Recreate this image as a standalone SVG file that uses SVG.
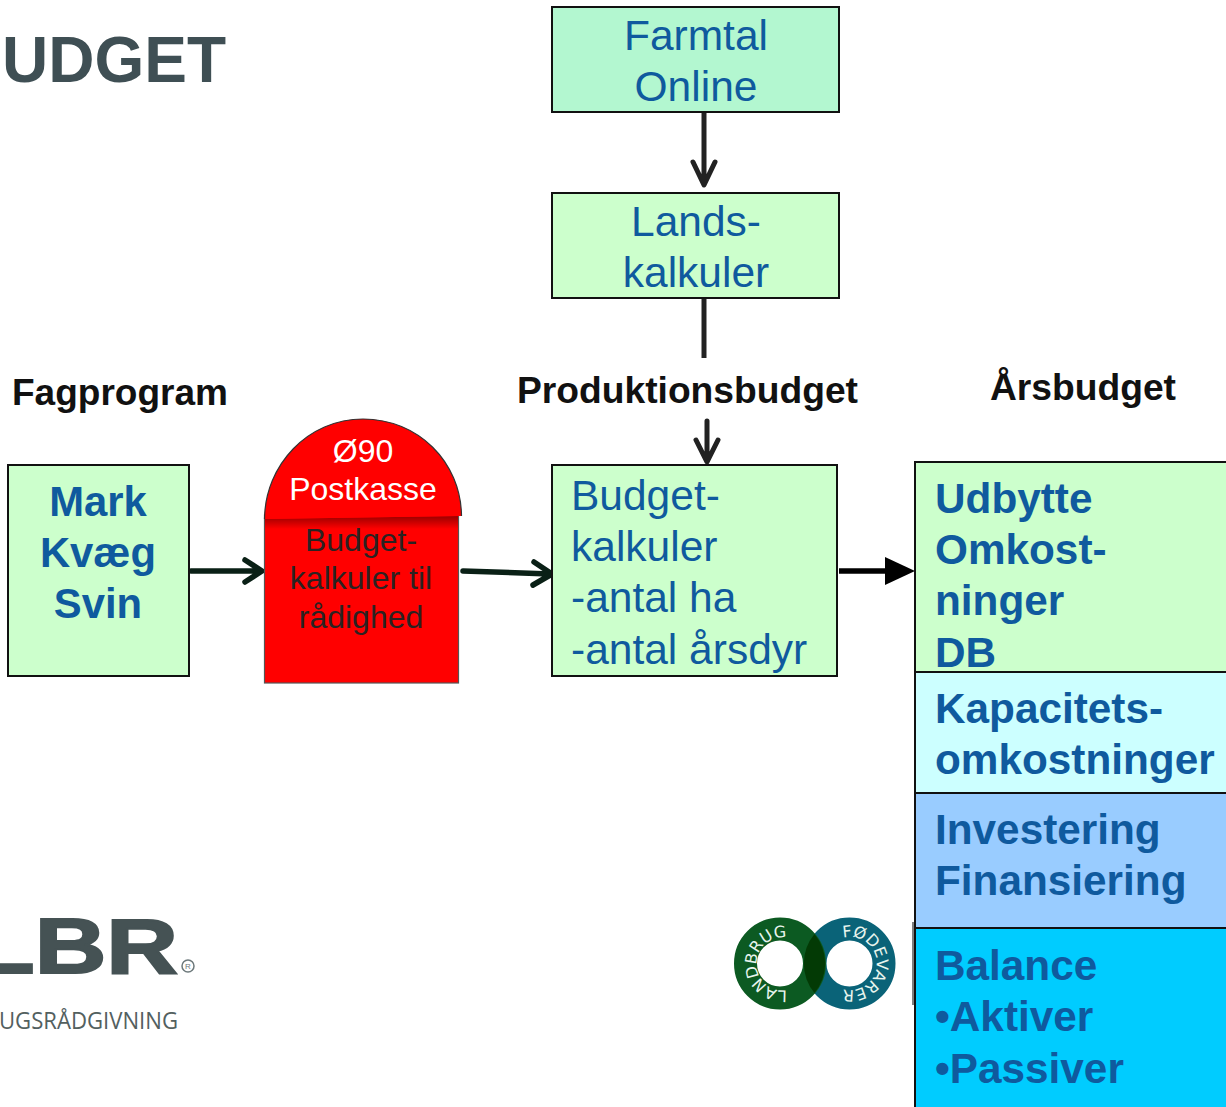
<svg xmlns="http://www.w3.org/2000/svg" width="1226" height="1107" viewBox="0 0 1226 1107">
<defs>
<linearGradient id="sh" x1="0" y1="0" x2="0" y2="1"><stop offset="0" stop-color="#9a0000"/><stop offset="1" stop-color="#ff0000"/></linearGradient>
<path id="arcL" d="M787 990A26.500 26.500 0 1 1 789 938"/>
<path id="arcR" d="M843 938A26.500 26.500 0 1 1 843 989"/>
</defs>
<style>
text{font-family:"Liberation Sans",Arial,sans-serif}
.box{stroke:#111;stroke-width:2}
.n{font-size:42.500px;fill:#0f5a9e;text-anchor:middle}
.l{font-size:42.500px;fill:#0f5a9e}
.b{font-size:42.300px;fill:#0f5a9e;font-weight:bold}
.h{font-weight:bold;fill:#111;font-size:37px}
.c{fill:none;stroke:#0a2016;stroke-width:5.500;stroke-linecap:round;stroke-linejoin:round}
.d{fill:none;stroke:#222;stroke-width:5;stroke-linecap:round;stroke-linejoin:round}
.lg{font-size:16px;fill:#e8f5ee;font-family:"DejaVu Sans",sans-serif}
</style>
<text x="2" y="82" font-size="64" font-weight="bold" fill="#3f4f54">UDGET</text>
<text class="h" x="12" y="405">Fagprogram</text>
<text class="h" x="517" y="403" textLength="341" lengthAdjust="spacingAndGlyphs">Produktionsbudget</text>
<text class="h" x="990" y="400" textLength="186" lengthAdjust="spacingAndGlyphs">Årsbudget</text>

<g id="connectors">
<path class="d" d="M704 113V184M693 162L704 185L715 162"/>
<path d="M704 299V358" stroke="#222" stroke-width="5" fill="none"/>
<path class="d" d="M707 421V461M696 440L707 462L718 440"/>
<path class="c" d="M191 571H260M245 560L262 571L245 582"/>
<path class="c" d="M463 571L550 574M534 562L552 574L533 585"/>
<path d="M839 571H886" stroke="#000" stroke-width="5.500" fill="none"/>
<path d="M885 557L915 571L885 585Z" fill="#000"/>
</g>

<g id="farmtal">
<rect class="box" x="552" y="7" width="287" height="105" fill="#b3f7d0"/>
<text class="n" x="696" y="50">Farmtal</text>
<text class="n" x="696" y="101">Online</text>
</g>
<g id="landskalkuler">
<rect class="box" x="552" y="193" width="287" height="105" fill="#ccffcc"/>
<text class="n" x="696" y="236">Lands-</text>
<text class="n" x="696" y="287">kalkuler</text>
</g>
<g id="fagprogram">
<rect class="box" x="8" y="465" width="181" height="211" fill="#ccffcc"/>
<text class="n" x="98" y="516" font-weight="bold" style="font-size:41.800px">Mark</text>
<text class="n" x="98" y="567" font-weight="bold" style="font-size:41.800px">Kvæg</text>
<text class="n" x="98" y="618" font-weight="bold" style="font-size:41.800px">Svin</text>
</g>
<g id="postkasse">
<rect x="264.500" y="515" width="194" height="168" fill="#ff0000" stroke="#555" stroke-width="1.200"/>
<path d="M265 519L458 516V529H265Z" fill="url(#sh)"/>
<path d="M264.500 519C265 465 308 419 363 419C418 419 461 462 461.500 516Z" fill="#ff0000"/>
<path d="M264.500 519C265 465 308 419 363 419C418 419 461 462 461.500 516" fill="none" stroke="#333" stroke-width="1.200"/>
<text x="363" y="462" font-size="32" fill="#fff" text-anchor="middle">Ø90</text>
<text x="363" y="500" font-size="32" fill="#fff" text-anchor="middle">Postkasse</text>
<text x="361" y="551" font-size="32" fill="#2a2222" text-anchor="middle">Budget-</text>
<text x="361" y="589" font-size="32" fill="#2a2222" text-anchor="middle">kalkuler til</text>
<text x="361" y="628" font-size="32" fill="#2a2222" text-anchor="middle">rådighed</text>
</g>
<g id="produktionsbudget">
<rect class="box" x="552" y="465" width="285" height="211" fill="#ccffcc"/>
<text class="l" x="571" y="510">Budget-</text>
<text class="l" x="571" y="561">kalkuler</text>
<text class="l" x="571" y="612">-antal ha</text>
<text class="l" x="571" y="664">-antal årsdyr</text>
</g>
<g id="udbytte">
<rect class="box" x="915" y="462" width="320" height="210" fill="#ccffcc"/>
<text class="b" x="935" y="513">Udbytte</text>
<text class="b" x="935" y="564">Omkost-</text>
<text class="b" x="935" y="615">ninger</text>
<text class="b" x="935" y="667">DB</text>
</g>
<g id="kapacitet">
<rect class="box" x="915" y="672" width="320" height="121" fill="#ccffff"/>
<text class="b" x="935" y="723">Kapacitets-</text>
<text class="b" x="935" y="774">omkostninger</text>
</g>
<g id="investering">
<rect class="box" x="915" y="793" width="320" height="135" fill="#99ccff"/>
<text class="b" x="935" y="844">Investering</text>
<text class="b" x="935" y="895">Finansiering</text>
</g>
<g id="balance">
<rect class="box" x="915" y="928" width="320" height="190" fill="#00ccff"/>
<text class="b" x="935" y="980">Balance</text>
<text class="b" x="935" y="1031">•Aktiver</text>
<text class="b" x="935" y="1083">•Passiver</text>
</g>

<g id="lbr-logo">
<text x="-26" y="973" font-size="77" font-weight="bold" fill="#455254" stroke="#455254" stroke-width="2" textLength="204" lengthAdjust="spacingAndGlyphs">LBR</text>
<circle cx="188" cy="966" r="6" fill="none" stroke="#6d797b" stroke-width="1.500"/>
<text x="188" y="969" font-size="8" fill="#6d797b" text-anchor="middle">R</text>
<text x="-1" y="1029" font-size="24" fill="#53605f" textLength="179" lengthAdjust="spacingAndGlyphs" style="font-family:'Open Sans',sans-serif">UGSRÅDGIVNING</text>
</g>
<g id="lf-logo">
<path d="M913 922V1005" stroke="#555" stroke-width="1.500"/>
<circle cx="849.500" cy="963.500" r="34.500" fill="none" stroke="#0a6378" stroke-width="23"/>
<circle cx="780" cy="963.500" r="34.500" fill="none" stroke="#0c5a22" stroke-width="23"/>
<path d="M814.500 934A46 46 0 0 1 814.500 993A46 46 0 0 1 814.500 934Z" fill="#033a05"/>
<text class="lg"><textPath href="#arcL">LANDBRUG</textPath></text>
<text class="lg"><textPath href="#arcR">FØDEVARER</textPath></text>
</g>
</svg>
